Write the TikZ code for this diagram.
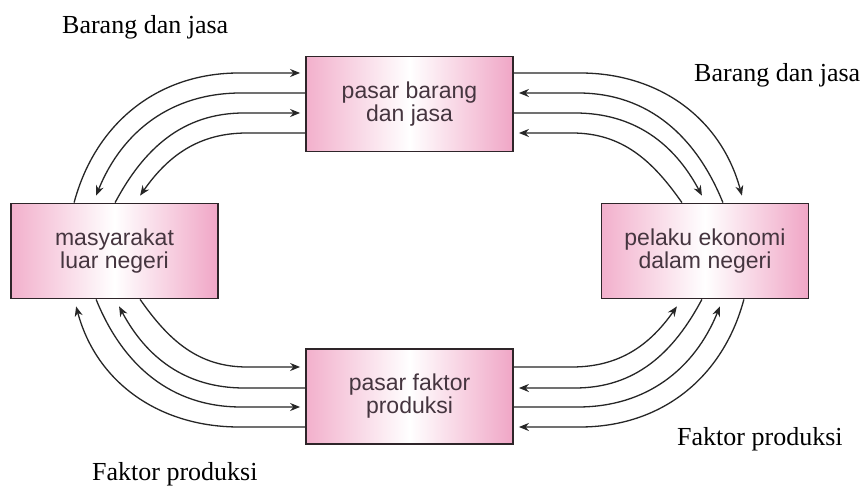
\documentclass[tikz,border=0pt]{standalone}
\usepackage{fontspec}
\setmainfont{Liberation Serif}
\newfontfamily\boxfont{Liberation Sans}
\usetikzlibrary{arrows.meta,calc}
\definecolor{pinkL}{HTML}{F2B0CC}
\definecolor{pinkR}{HTML}{F0A6C6}
\definecolor{boxline}{HTML}{2E2529}
\definecolor{boxtext}{HTML}{45353F}
\begin{document}
\begin{tikzpicture}[x=1pt,y=1pt,
  box/.style={draw=boxline, line width=1.8pt, left color=pinkL, right color=pinkR, middle color=white,
    minimum width=207pt, minimum height=95pt, inner sep=0pt, align=center, text=boxtext,
    font=\boxfont\fontsize{23}{23}\selectfont},
  lab/.style={anchor=base west, font=\fontsize{26}{26}\selectfont, inner sep=0pt},
  flow/.style={line width=1.3pt, black!85},
  arr/.style={flow, -{Stealth[length=10pt,width=8pt]}}]
\fill[white] (0,0) rectangle (864,486);
\useasboundingbox (0,0) rectangle (864,486);

\node[box] (T) at (409.5,382) {pasar barang\\dan jasa};
\node[box] (L) at (114.5,235) {masyarakat\\luar negeri};
\node[box] (R) at (705,235) {pelaku ekonomi\\dalam negeri};
\node[box] (B) at (409.5,89.5) {pasar faktor\\produksi};

\node[lab] (l1) at (62,452) {Barang dan jasa};
\node[lab] (l2) at (694,404) {Barang dan jasa};
\node[lab] (l3) at (677,40) {Faktor produksi};
\node[lab] (l4) at (92,5) {Faktor produksi};

% top-left
\draw[arr] ($(L.north west)+(64,0)$) to[out=75,in=180] ($(T.west)+(-66,31)$) -- ($(T.west)+(-5,31)$);
\draw[arr] ($(T.west)+(0,11)$) -- ($(T.west)+(-64,11)$) to[out=180,in=68] ($(L.north west)+(86,7)$);
\draw[arr] ($(L.north west)+(105,0)$) to[out=62,in=180] ($(T.west)+(-61,-9)$) -- ($(T.west)+(-5,-9)$);
\draw[arr] ($(T.west)+(0,-29)$) -- ($(T.west)+(-58,-29)$) to[out=180,in=55] ($(L.north west)+(130,7)$);

% top-right
\draw[arr] ($(T.east)+(0,31)$) -- ($(T.east)+(66,31)$) to[out=0,in=105] ($(R.north east)+(-67.5,7)$);
\draw[arr] ($(R.north east)+(-86.5,0)$) to[out=112,in=0] ($(T.east)+(64,11)$) -- ($(T.east)+(5,11)$);
\draw[arr] ($(T.east)+(0,-9)$) -- ($(T.east)+(61,-9)$) to[out=0,in=118] ($(R.north east)+(-107.5,7)$);
\draw[arr] ($(R.north east)+(-127.5,0)$) to[out=125,in=0] ($(T.east)+(58,-29)$) -- ($(T.east)+(5,-29)$);

% bottom-left
\draw[arr] ($(L.south west)+(130,0)$) to[out=-55,in=180] ($(B.west)+(-58,29.5)$) -- ($(B.west)+(-5,29.5)$);
\draw[arr] ($(B.west)+(0,8.5)$) -- ($(B.west)+(-61,8.5)$) to[out=180,in=-62] ($(L.south west)+(109,-7)$);
\draw[arr] ($(L.south west)+(86,0)$) to[out=-68,in=180] ($(B.west)+(-64,-10.5)$) -- ($(B.west)+(-5,-10.5)$);
\draw[arr] ($(B.west)+(0,-30.5)$) -- ($(B.west)+(-66,-30.5)$) to[out=180,in=-75] ($(L.south west)+(66,-7)$);

% bottom-right
\draw[arr] ($(B.east)+(0,29.5)$) -- ($(B.east)+(58,29.5)$) to[out=0,in=-125] ($(R.south east)+(-132.5,-7)$);
\draw[arr] ($(R.south east)+(-107.5,0)$) to[out=-118,in=0] ($(B.east)+(61,8.5)$) -- ($(B.east)+(5,8.5)$);
\draw[arr] ($(B.east)+(0,-10.5)$) -- ($(B.east)+(64,-10.5)$) to[out=0,in=-112] ($(R.south east)+(-89.5,-7)$);
\draw[arr] ($(R.south east)+(-65.5,0)$) to[out=-105,in=0] ($(B.east)+(66,-30.5)$) -- ($(B.east)+(5,-30.5)$);
\end{tikzpicture}
\end{document}
